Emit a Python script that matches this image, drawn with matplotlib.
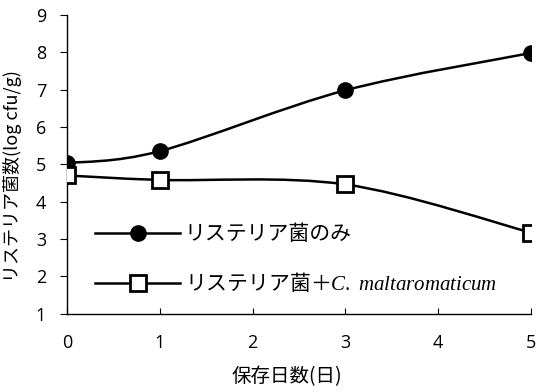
import numpy as np
import matplotlib
matplotlib.use("Agg")
import matplotlib.pyplot as plt
from matplotlib.path import Path
from matplotlib.patches import PathPatch

plt.rcParams['font.family'] = ['Noto Sans CJK JP', 'DejaVu Sans']
plt.rcParams['mathtext.fontset'] = 'custom'
plt.rcParams['mathtext.it'] = 'Liberation Serif:italic'
plt.rcParams['mathtext.rm'] = 'Liberation Serif'

days = [0, 1, 3, 5]
listeria_only = [5.03, 5.35, 6.98, 7.98]
listeria_cm = [4.70, 4.58, 4.46, 3.17]
labels = ["リステリア菌のみ", "リステリア菌＋$C.\\ maltaromaticum$"]


def smooth_path(x, y):
    # Excel-style smoothed line: cubic Bezier through each point
    x = np.asarray(x, float); y = np.asarray(y, float)
    n = len(x)
    verts = [(x[0], y[0])]
    codes = [Path.MOVETO]
    for i in range(n - 1):
        p0 = np.array([x[max(i - 1, 0)], y[max(i - 1, 0)]])
        p1 = np.array([x[i], y[i]])
        p2 = np.array([x[i + 1], y[i + 1]])
        p3 = np.array([x[min(i + 2, n - 1)], y[min(i + 2, n - 1)]])
        c1 = p1 + (p2 - p0) / 6
        c2 = p2 - (p3 - p1) / 6
        verts += [tuple(c1), tuple(c2), tuple(p2)]
        codes += [Path.CURVE4] * 3
    return Path(verts, codes)


fig = plt.figure(figsize=(5.44, 3.92), dpi=100)
ax = fig.add_axes([0.123, 0.20, 0.853, 0.762])

for ys in (listeria_only, listeria_cm):
    ax.add_patch(PathPatch(smooth_path(days, ys), fill=False, lw=1.8,
                           edgecolor="black", zorder=2))
ax.plot(days, listeria_only, ls="none", marker="o", ms=11, mfc="black",
        mec="black", zorder=3)
ax.plot(days, listeria_cm, ls="none", marker="s", ms=11, mfc="white",
        mec="black", mew=2, zorder=3)

h1, = ax.plot([], [], color="black", lw=1.8, marker="o", ms=11, mfc="black")
h2, = ax.plot([], [], color="black", lw=1.8, marker="s", ms=11, mfc="white", mew=2)
ax.legend([h1, h2], labels, loc="lower left", bbox_to_anchor=(0.02, 0.0),
          frameon=False, handlelength=4.1, handletextpad=0.2, labelspacing=1.25,
          prop={"size": 15, "family": ["Noto Sans CJK JP", "DejaVu Sans"]})

ax.set_xlim(0, 5)
ax.set_ylim(1, 9)
ax.set_xticks(range(0, 6))
ax.set_yticks(range(1, 10))
ax.spines["top"].set_visible(False)
ax.spines["right"].set_visible(False)
ax.spines["left"].set_linewidth(1.0)
ax.spines["bottom"].set_linewidth(1.0)
ax.tick_params(axis="y", direction="out", length=5, labelsize=13, pad=10)
ax.tick_params(axis="x", direction="in", length=4, labelsize=13, pad=15)
for lbl in ax.get_xticklabels() + ax.get_yticklabels():
    lbl.set_family("Open Sans")

ax.set_xlabel("保存日数(日)", fontsize=14)
ax.xaxis.set_label_coords(0.475, -0.175)
ax.set_ylabel("リステリア菌数(log cfu/g)", fontsize=13)
ax.yaxis.set_label_coords(-0.097, 0.46)

fig.savefig("out.png", dpi=100)
